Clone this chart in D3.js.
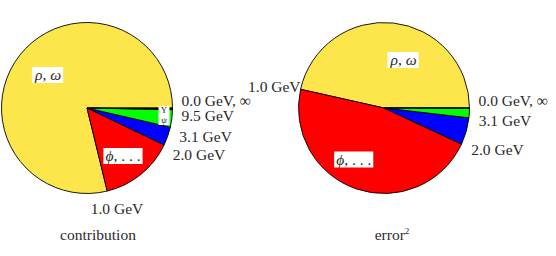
<!DOCTYPE html>
<html>
<head>
<meta charset="utf-8">
<script src="https://cdn.jsdelivr.net/npm/d3@7"></script>
<style>
  html, body { margin: 0; padding: 0; background: #fff; }
  svg { display: block; }
</style>
</head>
<body>
<svg id="chart" width="556" height="256"></svg>
<script>
// ---- data (slices listed counter-clockwise from 3 o'clock) ----
const slices = ["rho_omega", "phi", "mid", "psi", "upsilon"];
const sliceColors = ["#fde64b", "#ff0000", "#0000ff", "#00ff00", "#000000"];
const contribution = [78.8, 14.1, 3.5, 3.3, 0.3];
const error2 = [46.5, 46.6, 5.1, 1.8, 0.03];
// boundary labels: label placed at the end of each slice (index), plus start
const boundaryLabels = ["1.0 GeV", "2.0 GeV", "3.1 GeV", "9.5 GeV"];
const startLabel = "0.0 GeV, \u221E";
const titles = ["contribution", "error"];

const svg = d3.select("#chart");
const R = 85.5;
const FS = 15.5;
const INK = "#2a2a2a";
const FONT = "'Liberation Serif', 'Times New Roman', serif";

function txt(sel) {
  return sel.append("text").style("font-family", FONT).attr("fill", INK);
}

function drawPie(cx, cy, values, opts) {
  const g = svg.append("g").attr("transform", `translate(${cx},${cy})`);
  const pie = d3.pie().sort(null).value(d => d)
    .startAngle(Math.PI / 2).endAngle(Math.PI / 2 - 2 * Math.PI);
  const arcs = pie(values);
  const arc = d3.arc().innerRadius(0).outerRadius(R);
  g.selectAll("path.slice").data(arcs).enter().append("path")
    .attr("class", "slice")
    .attr("d", arc)
    .attr("fill", (d, i) => sliceColors[i])
    .attr("stroke", "#000")
    .attr("stroke-width", 0.9)
    .attr("stroke-linejoin", "round");

  const rim = a => [R * Math.sin(a), -R * Math.cos(a)];

  const p0 = rim(Math.PI / 2);
  txt(g).attr("x", p0[0] + 9).attr("y", p0[1] - 2.5)
    .attr("font-size", FS).text(startLabel);

  opts.bounds.forEach(b => {
    const a = arcs[b.idx].endAngle;
    const p = rim(a);
    txt(g).attr("x", p[0] + b.dx).attr("y", p[1] + b.dy)
      .attr("text-anchor", b.anchor || "start")
      .attr("font-size", FS).text(boundaryLabels[b.idx]);
  });

  function boxLabel(x, y, parts, fs) {
    const t = txt(g).attr("x", x).attr("y", y)
      .attr("text-anchor", "middle").attr("font-size", fs);
    parts.forEach(p => t.append("tspan").attr("font-style", p[1] ? "italic" : "normal").text(p[0]));
    const bb = t.node().getBBox();
    g.insert("rect", () => t.node())
      .attr("x", bb.x - 2).attr("y", bb.y + 1)
      .attr("width", bb.width + 4).attr("height", bb.height - 1)
      .attr("fill", "#fff");
  }
  boxLabel(opts.rho[0], opts.rho[1], [["\u03C1", true], [", ", false], ["\u03C9", true]], FS);
  boxLabel(opts.phi[0], opts.phi[1], [["\u03D5", true], [", . . .", false]], FS);
  if (opts.small) {
    const s = opts.small;
    g.append("rect")
      .attr("x", s[0] - 5.5).attr("y", s[1] - 7).attr("width", 11).attr("height", 19)
      .attr("fill", "#fff");
    txt(g).attr("x", s[0]).attr("y", s[1]).attr("text-anchor", "middle")
      .attr("font-size", 9).text("\u03A5");
    txt(g).attr("x", s[0]).attr("y", s[1] + 9.5).attr("text-anchor", "middle")
      .attr("font-size", 9).attr("font-style", "italic").text("\u03C8");
  }
  return g;
}

drawPie(87, 108, contribution, {
  bounds: [
    { idx: 0, dx: -16.5, dy: 23 },
    { idx: 1, dx: 8.6, dy: 15 },
    { idx: 2, dx: 9, dy: 15 },
    { idx: 3, dx: 9, dy: 11.5 }
  ],
  rho: [-39, -28],
  phi: [36, 53],
  small: [77, 5]
});

drawPie(384, 108, error2, {
  bounds: [
    { idx: 0, dx: 0, dy: 2.5, anchor: "end" },
    { idx: 1, dx: 9.7, dy: 11 },
    { idx: 2, dx: 9.8, dy: 8.3 }
  ],
  rho: [19.5, -43],
  phi: [-30.3, 56.5]
});

txt(svg).attr("x", 98).attr("y", 240).attr("text-anchor", "middle")
  .attr("font-size", FS).text(titles[0]);
const et = txt(svg).attr("x", 392).attr("y", 240).attr("text-anchor", "middle")
  .attr("font-size", FS);
et.append("tspan").text(titles[1]);
et.append("tspan").attr("font-size", 9).attr("dy", -6).text("2");
</script>
</body>
</html>
